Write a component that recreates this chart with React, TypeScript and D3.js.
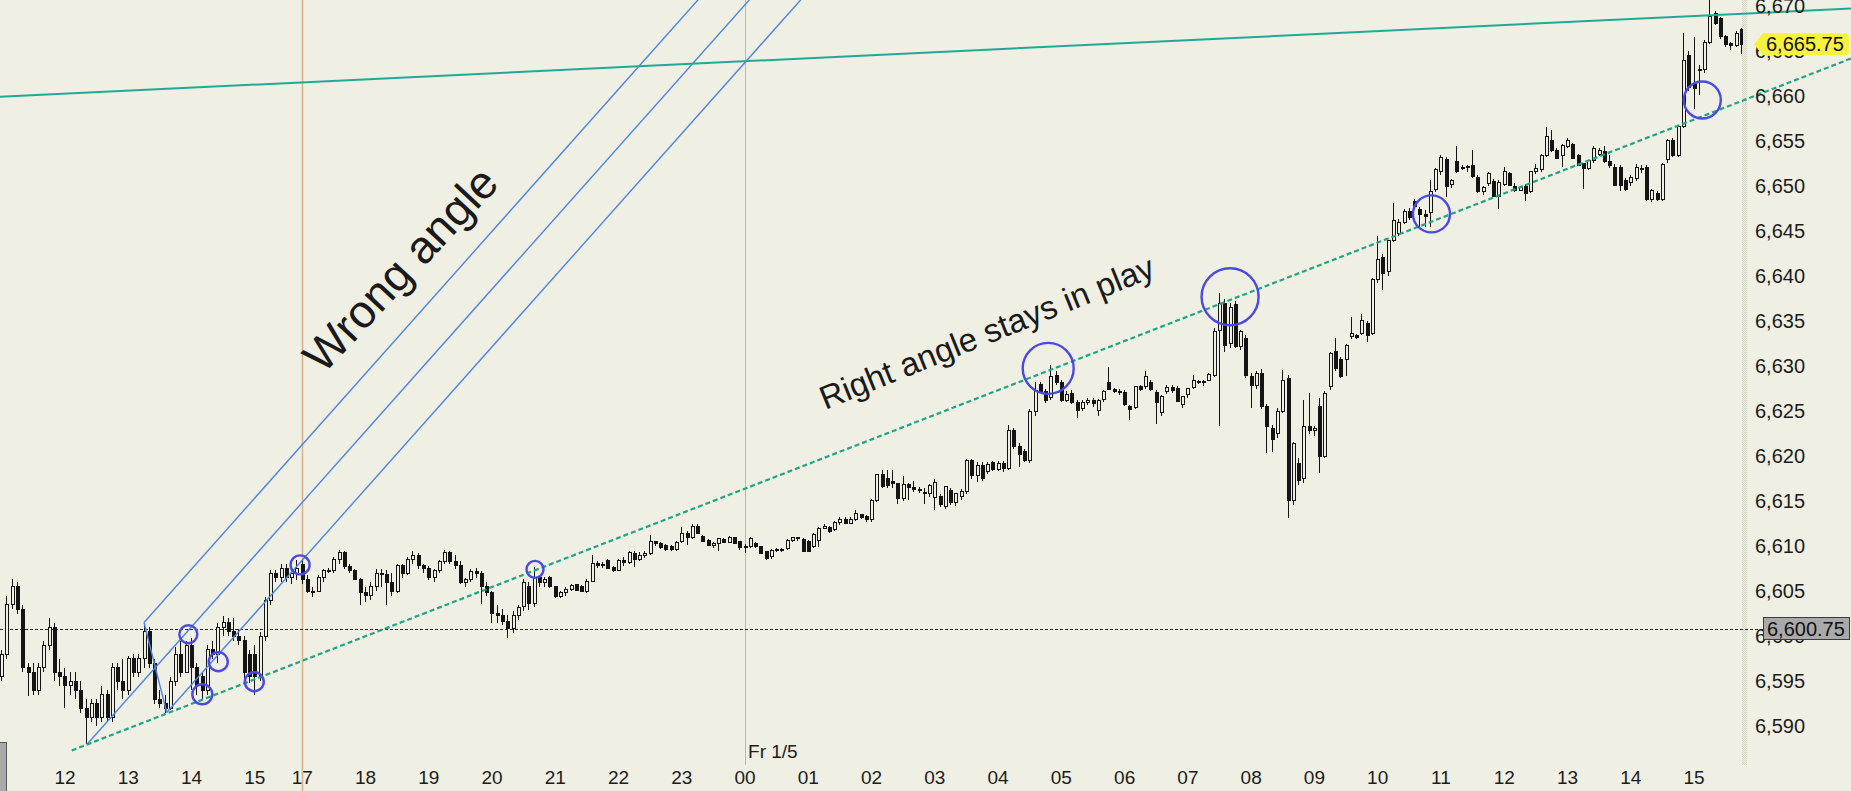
import React from 'react';
import * as d3 from 'd3';

type Bar = [number, number, number, number]; // open, high, low, close (5-minute bars)

// Thu 1/4 11:00 - 15:45
const thursdayDay: Bar[] = [
  [6595.5,6598.5,6595,6598],[6598,6604.5,6597.5,6603.5],[6603.5,6606.3,6603,6605.5],[6605.5,6606,6602.5,6603],
  [6603,6603.5,6596,6596.5],[6596.5,6597,6593.3,6596],[6596,6597,6593.5,6594],[6594,6597,6593.5,6596.5],
  [6596.5,6599.5,6596,6599],[6599,6602,6598.5,6601],[6601,6601.5,6595,6596],[6596,6597.5,6594.5,6595.5],
  [6595.5,6596.5,6592,6594.5],[6594.5,6596,6593.5,6595],[6595,6596,6593,6594],[6594,6595,6591.5,6592],
  [6592,6593,6588,6591],[6591,6593,6590.5,6592.5],[6592.5,6593,6590,6591],[6591,6594.5,6590.5,6593.5],
  [6593.5,6594,6590.5,6591],[6591,6597,6590.5,6596.5],[6596.5,6597,6594,6595],[6595,6597.5,6593,6594],
  [6594,6597.8,6593.5,6597.5],[6597.5,6598,6595.5,6596],[6596,6598,6595.5,6597.5],[6597.5,6601.5,6596.5,6600.5],
  [6600.5,6601,6596.5,6597],[6597,6597.5,6592.5,6593],[6593,6594,6592,6592.5],[6592.5,6593.5,6591.5,6592],
  [6592,6595.5,6591.8,6595],[6595,6598.8,6594.5,6598],[6598,6599.5,6595.5,6596],[6596,6599.5,6596,6599],
  [6599,6599.8,6594,6596.5],[6596.5,6597,6593.5,6594.5],[6595.5,6596,6593,6594],[6594,6599,6593.5,6598.5],
  [6598.5,6599.5,6597.5,6598],[6598,6601.5,6597,6601],[6601,6602.2,6600,6601.5],[6601.5,6602,6600,6600.5],
  [6600.5,6602,6599.5,6600],[6600,6600.8,6599,6599.5],[6599.5,6600,6595,6596],[6598,6598.5,6594.8,6595.5],
  [6598,6599,6593.5,6595.5],[6595.5,6600.5,6595,6600],[6600,6604.3,6599.5,6604],[6604,6607.3,6603.5,6607],
  [6607,6607.3,6606,6606.5],[6606.5,6608,6606,6607.5],[6607.5,6608,6606,6606.5],[6606.5,6607.3,6605.8,6607],
  [6607,6608.5,6606.2,6607.5],
];

// Thu 17:00 - 23:55
const thursdayEvening: Bar[] = [
  [6608,6608.5,6605.8,6606.3],[6606.3,6606.8,6604.8,6605],[6605,6605.5,6604.3,6605],[6605,6606.8,6605,6606.5],
  [6606.5,6607.5,6606,6607.3],[6607.3,6607.6,6607,6607.3],[6607.3,6608.8,6607,6608.5],[6608.5,6609.6,6608,6609.3],
  [6609.3,6609.5,6607.5,6607.7],[6607.7,6608,6607,6607.3],[6607.3,6607.5,6606.2,6606.3],[6606.3,6606.5,6603.5,6604.8],
  [6604.8,6605.5,6603.8,6604.5],[6604.5,6606,6604,6605.5],[6605.5,6607.5,6605,6607],[6607,6607.5,6605.5,6606.8],
  [6606.8,6607.3,6603.5,6606],[6606,6607,6604.5,6605],[6605,6608,6604.8,6607.8],[6607.8,6608,6606.5,6607],
  [6607,6608.8,6606.8,6608.5],[6608.5,6609.5,6608,6609],[6609,6609.2,6607.5,6607.8],[6607.8,6608,6607,6607.5],
  [6607.5,6607.8,6606.2,6606.5],[6606.5,6607.5,6606,6607.3],[6607.3,6608.5,6607,6608.3],[6608.3,6609.6,6608,6609.3],
  [6609.3,6609.5,6608,6608.3],[6608.3,6609,6607.5,6607.8],[6607.8,6608.3,6605.8,6606],[6606,6606.5,6605.5,6606.3],
  [6606.3,6607.5,6606,6607.2],[6607.2,6607.6,6606.5,6607],[6607,6607.2,6603.6,6605.5],[6605.5,6606,6604.5,6604.8],
  [6604.8,6605,6601.5,6602.5],[6602.5,6603.5,6601.5,6602.3],[6602.3,6603,6601.2,6601.6],[6601.6,6602.3,6599.8,6600.8],
  [6600.8,6602.8,6600.3,6602.3],[6602.3,6603.5,6601.8,6603.2],[6603.3,6606.3,6602.8,6606],[6605.5,6606,6602.9,6603.6],
  [6603.6,6607.7,6603.2,6606.5],[6606.5,6606.7,6605.5,6606],[6606,6606.6,6605.5,6606.3],[6606.5,6606.7,6605.3,6605.5],
  [6605.5,6605.6,6604.2,6604.4],[6604.4,6605,6604.2,6604.8],[6604.8,6605.5,6604.5,6605.2],[6605.2,6605.8,6605,6605.6],
  [6605.7,6605.8,6605,6605.1],[6605.5,6605.7,6604.9,6605],[6605,6606.3,6604.8,6606.1],[6606.1,6609,6606,6608.1],
  [6608.1,6608.3,6607.6,6607.8],[6607.8,6608.2,6607.6,6608],[6608.4,6608.6,6607.4,6607.5],[6607.6,6607.8,6607.1,6607.3],
  [6607.3,6608.6,6607.2,6608.4],[6608.4,6608.8,6607.8,6608.2],[6608.2,6609.4,6608,6609.3],[6609.2,6609.4,6607.7,6608.5],
  [6608.5,6609.3,6608.3,6609],[6609,6609.4,6608.7,6609.2],[6609.2,6611.2,6609,6610.5],[6610.5,6610.6,6610,6610.3],
  [6610.3,6610.5,6609.7,6609.8],[6610.1,6610.2,6609.5,6609.6],[6609.9,6610.1,6609.5,6609.6],[6609.6,6610.6,6609.5,6610.4],
  [6610.5,6612.1,6610.3,6611.4],[6611.4,6611.7,6610.1,6611],[6611,6612.4,6610.8,6612.2],[6612.2,6612.4,6611.3,6611.4],
  [6611.1,6611.2,6610.4,6610.5],[6610.6,6610.8,6610,6610.1],[6610.1,6610.5,6609.8,6610.3],[6610.3,6610.9,6609.4,6610.8],
  [6610.7,6610.9,6610.3,6610.4],[6610.4,6611.1,6610.3,6611],[6610.9,6611,6610.2,6610.3],[6610.5,6610.6,6609.6,6609.8],
];

// Fri 1/5 00:00 - 04:55
const fridayNight: Bar[] = [
  [6609.8,6610.2,6609.2,6610],[6610,6611,6609.8,6610.8],[6610.3,6610.5,6609.8,6610],[6609.9,6610,6609.1,6609.2],
  [6609.4,6609.5,6608.4,6608.6],[6608.8,6609.7,6608.6,6609.5],[6609.5,6609.8,6609.3,6609.6],[6609.6,6609.8,6609.3,6609.5],
  [6609.7,6610.8,6609.6,6610.6],[6610.6,6611,6610.5,6610.9],[6610.9,6611,6610.6,6610.8],[6610.7,6610.9,6609.3,6609.4],
  [6610.5,6610.7,6609.3,6609.4],[6609.9,6611.4,6609.8,6611.3],[6610.6,6612.1,6609.9,6612],[6612,6612.4,6611.9,6612.2],
  [6612.1,6612.2,6611.5,6611.6],[6611.8,6612.8,6611.7,6612.6],[6612.6,6613.2,6612.3,6612.9],[6613,6613.2,6612.4,6612.5],
  [6612.5,6613.2,6612.4,6613],[6612.9,6614,6612.8,6613.6],[6613.5,6613.6,6613,6613.2],[6613.3,6613.4,6612.7,6612.9],
  [6612.9,6615.2,6612.7,6615.1],[6615.1,6618,6614.9,6617.9],[6617.9,6618.4,6616.4,6616.6],[6617.5,6618.4,6616.5,6616.7],
  [6617.2,6618.4,6616.5,6617],[6616.9,6617,6614.7,6615.3],[6615.3,6617.8,6615,6616.8],[6616.8,6617,6615.1,6616.5],
  [6616.5,6617.2,6616,6616.3],[6616.3,6616.6,6615.9,6616.2],[6616,6616.5,6614.7,6615.8],[6615.8,6616.9,6615.5,6616.7],
  [6615.4,6617.5,6614,6617.1],[6615.5,6615.8,6614.3,6614.6],[6614.4,6616.7,6614.1,6616.6],[6616.2,6616.4,6614.6,6614.8],
  [6614.8,6615.9,6614.5,6615.8],[6615.5,6616.3,6615.1,6616.1],[6616.1,6619.7,6615.8,6619.5],[6619.5,6619.7,6617.5,6617.8],
  [6617.8,6619.3,6617.1,6619],[6619,6619.3,6617.2,6617.5],[6618.3,6619.3,6618,6619.1],[6619.3,6619.5,6618.3,6618.5],
  [6618.5,6619.4,6618.3,6619.2],[6619.2,6619.5,6618.2,6618.6],[6618.6,6623.5,6618.4,6622.8],[6622.8,6623.1,6620.8,6621.1],
  [6621.1,6621.5,6618.8,6620.2],[6620.5,6620.8,6619.3,6619.5],[6619.5,6625.2,6619.2,6624.9],[6624.9,6628.2,6624.5,6627.3],
  [6627.9,6628.2,6627,6627.2],[6627.2,6627.4,6625.9,6626.2],[6626.5,6630.1,6626.2,6628.8],[6629,6629.5,6627.9,6628.2],
];

// Fri 05:00 - 10:25
const fridayMorning: Bar[] = [
  [6628.2,6628.4,6626,6626.2],[6626.2,6627.2,6626,6626.8],[6627,6627.3,6625.8,6626],[6626,6626.2,6624.2,6625.1],
  [6625.3,6626.2,6625,6626],[6626,6626.5,6625.7,6626.2],[6626.2,6626.4,6625.5,6625.8],[6625.1,6626.3,6624.4,6626.2],
  [6626.3,6627.3,6626,6627.2],[6628.2,6629.9,6627.3,6627.4],[6627.4,6627.6,6627,6627.2],[6627.2,6627.5,6626.8,6627.1],
  [6627.1,6627.3,6625.6,6625.7],[6625.5,6625.7,6624,6625.2],[6625.4,6627.8,6625.2,6627.7],[6627.7,6627.9,6627.2,6627.4],
  [6627.7,6629.4,6627.4,6628.8],[6628.2,6628.4,6627.2,6627.4],[6627.1,6627.3,6623.6,6625.9],[6624.8,6626.8,6624.5,6626.6],
  [6627.2,6627.9,6626.9,6627.6],[6627.6,6627.9,6627,6627.3],[6627.5,6627.8,6626,6626.1],[6625.7,6626.7,6625.3,6626.6],
  [6626.8,6627.6,6626.5,6627.5],[6627.6,6629,6627.4,6628.4],[6628.3,6628.5,6628,6628.2],[6628.2,6628.5,6627.8,6628.3],
  [6628.4,6629.2,6628.3,6629.1],[6629,6634.2,6628.8,6633.8],[6634,6638.1,6623.3,6637],[6637,6637.5,6631.6,6632.3],
  [6632.5,6637,6632,6636.5],[6636.8,6637.2,6632,6632.2],[6632.2,6634,6631.8,6633.8],[6633.1,6633.5,6628.7,6628.9],
  [6628.8,6629.2,6625.3,6627.8],[6627.8,6629.5,6627.5,6629.2],[6629.2,6629.7,6625.2,6625.5],[6625.5,6625.8,6620.3,6623.3],
  [6623.1,6623.5,6620.5,6621.8],[6622.5,6625.3,6622,6625],[6625,6629.6,6624.8,6628.4],[6628.6,6629,6613.1,6615.1],
  [6615.1,6621.6,6614.6,6621.4],[6619.2,6619.8,6616.8,6617.3],[6617.5,6626.2,6617,6623.3],[6623.3,6627,6622.4,6622.8],
  [6622.8,6623.3,6622.2,6623.1],[6625.5,6626.5,6618.1,6619.9],[6620,6627.2,6619.8,6627],[6627.7,6631.6,6627.3,6631.4],
  [6631.6,6633.1,6629.5,6629.7],[6630.7,6631,6628.7,6628.8],[6630.7,6632.4,6628.9,6632.3],[6633.3,6635.5,6633,6633.6],
  [6633.4,6633.6,6633,6633.2],[6633.6,6635.8,6633.4,6635.1],[6634.7,6635,6632.7,6633.4],[6633.6,6639.8,6633.4,6639.6],
  [6639.6,6644.4,6639.2,6641.8],[6642.1,6642.5,6638.4,6640.3],[6640.5,6644,6640,6643.9],[6644,6648.1,6643.8,6646.2],
  [6644.7,6646.3,6644.5,6645.9],
];

// Fri 10:30 - 15:50
const fridayAfternoon: Bar[] = [
  [6646,6647.5,6645.8,6647.2],[6647.2,6647.6,6646.2,6646.5],[6648.3,6648.6,6647.6,6647.7],[6647.4,6647.7,6645.5,6646.8],
  [6646.8,6647.3,6645.4,6646.6],[6647.1,6650.7,6645.5,6649.4],[6649.6,6652,6649.3,6651.8],[6651.6,6653.5,6651.2,6653.2],
  [6653,6653.2,6648.8,6650],[6650.2,6650.8,6649.8,6650.6],[6652.7,6654.4,6651.5,6651.6],[6652,6652.3,6651.8,6652.1],
  [6652.1,6652.3,6651.6,6652.2],[6652.3,6654,6650.9,6651.1],[6651,6651.2,6649.2,6649.4],[6649.4,6650,6649,6649.8],
  [6650.3,6651.6,6650,6651.4],[6650.5,6650.8,6648.8,6648.8],[6648.8,6650.7,6647.4,6650.4],[6650.2,6652.1,6650,6651.6],
  [6651.4,6651.6,6650,6650.1],[6650,6650.3,6649.3,6649.5],[6649.5,6649.9,6649.5,6649.8],[6650,6650.2,6648.3,6649.2],
  [6649.4,6651.7,6649.2,6651.6],[6651.6,6652.5,6651.3,6651.9],[6651.8,6653.6,6651.6,6653.4],[6653.4,6656.6,6653.2,6655.5],
  [6655.1,6656.2,6653.8,6654],[6654,6654.2,6653,6653.1],[6653.4,6654.7,6652.1,6654.5],[6654.4,6655.3,6654.2,6655.1],
  [6654.6,6654.8,6653,6653.1],[6653.4,6653.6,6652.2,6652.3],[6652.5,6652.6,6649.7,6652],[6652,6652.9,6651.8,6652.8],
  [6652.8,6654.4,6652.6,6654.2],[6653.5,6654.2,6653.3,6654],[6653.8,6654.4,6652.6,6652.7],[6652.7,6653.5,6652,6652.3],
  [6652.1,6652.4,6650,6650.1],[6652.1,6652.3,6649.5,6650.1],[6650.6,6650.9,6649.4,6649.6],[6650.4,6651.2,6650,6651],
  [6650.8,6652.4,6650.6,6652.1],[6652,6652.3,6651.5,6651.8],[6652.1,6652.3,6648.3,6648.5],[6648.5,6649.7,6648.2,6649.5],
  [6649.2,6649.5,6648.3,6648.5],[6648.5,6652.6,6648.3,6652.4],[6652.9,6655.2,6652.6,6655.1],[6655.1,6655.3,6653.2,6653.4],
  [6653.4,6656.8,6653.2,6656.6],[6656.6,6667,6656.4,6664],[6664.5,6665,6660.6,6661],[6661.4,6666.6,6658.6,6660.8],
  [6662.9,6663.5,6660.1,6663],[6662.9,6666.2,6662.6,6666],[6666,6670.7,6665.8,6668.8],[6669.2,6669.5,6667.9,6668.1],
  [6668.6,6668.8,6666.3,6666.6],[6666.6,6666.8,6665.4,6665.7],[6665.8,6666,6665.1,6665.6],[6665.6,6667.2,6665.4,6667],
  [6667.4,6667.6,6664.7,6665.75],
];

const bars: Bar[] = [...thursdayDay, ...thursdayEvening, ...fridayNight, ...fridayMorning, ...fridayAfternoon];

// hour labels with the index of the first bar of that hour
const hourTicks: [string, number][] = [
  ['12', 12], ['13', 24], ['14', 36], ['15', 48], ['17', 57], ['18', 69], ['19', 81], ['20', 93], ['21', 105],
  ['22', 117], ['23', 129], ['00', 141], ['01', 153], ['02', 165], ['03', 177], ['04', 189], ['05', 201],
  ['06', 213], ['07', 225], ['08', 237], ['09', 249], ['10', 261], ['11', 273], ['12', 285], ['13', 297],
  ['14', 309], ['15', 321],
];
const sessionBreakBar = 57;
const dayBreakBar = 141;
const dayBreakLabel = 'Fr 1/5';

const priceTicks = [6590, 6595, 6600, 6605, 6610, 6615, 6620, 6625, 6630, 6635, 6640, 6645, 6650, 6655, 6660, 6665, 6670];
const lastPrice = 6665.75;
const referencePrice = 6600.75;

// annotations, in (bar index, price)
const pitchforkA: [number, number] = [16.24, 6588.0];
const pitchforkB: [number, number] = [27.0, 6601.5];
const pitchforkC: [number, number] = [31.3, 6591.5];
const supportLine: [number, number][] = [[13.28, 6587.28], [300, 6652.6]];
const resistanceLine: [number, number][] = [[0, 6659.92], [330, 6669.14]];
const touchPoints: [number, number][] = [
  [35.4, 6600.19], [38.05, 6593.52], [41.08, 6597.14], [47.91, 6594.92], [56.6, 6607.9],
  [101.16, 6607.4], [198.5, 6629.74], [233.0, 6637.7], [271.2, 6646.9], [322.57, 6659.56],
];
const touchRadii = [9, 10, 9.5, 9.5, 9.5, 8.5, 25.5, 28.5, 18.5, 18.5];

const W = 1851;
const H = 791;
const BG = '#efefe3';
const INK = '#141414';
const FONT = '"Liberation Sans", Arial, Helvetica, sans-serif';

export default function App() {
  const x = d3.scaleLinear().domain([0, bars.length - 1]).range([1.7, 1.7 + 5.272 * (bars.length - 1)]);
  const y = d3.scaleLinear().domain([6590, 6670]).range([726, 6]);
  const fmt = d3.format(',');
  const fmt2 = d3.format(',.2f');
  const plotRight = 1743;

  const px = (p: [number, number]): [number, number] => [x(p[0]), y(p[1])];

  const extendTo = (p1: [number, number], p2: [number, number], xEnd: number): [number, number] => {
    const s = (p2[1] - p1[1]) / (p2[0] - p1[0]);
    return [xEnd, p1[1] + s * (xEnd - p1[0])];
  };

  const sup0 = px(supportLine[0]);
  const sup1 = px(supportLine[1]);
  const supEnd = extendTo(sup0, sup1, W);
  const res0 = px(resistanceLine[0]);
  const res1 = px(resistanceLine[1]);
  const resStart = extendTo(res0, res1, 0);
  const resEnd = extendTo(res0, res1, W);

  const A = px(pitchforkA);
  const B = px(pitchforkB);
  const C = px(pitchforkC);
  const M: [number, number] = [(B[0] + C[0]) / 2, (B[1] + C[1]) / 2];
  const dir: [number, number] = [M[0] - A[0], M[1] - A[1]];
  const prong = (s: [number, number]) => {
    const t = (s[1] + 4) / -dir[1];
    return [s, [s[0] + dir[0] * t, s[1] + dir[1] * t]] as [number, number][];
  };
  const prongs = [prong(A), prong(B), prong(C)];

  const candles = bars.map((b, i) => {
    const [o, h, l, c] = b;
    const cx = Math.floor(x(i)) + 0.5;
    const up = c >= o;
    const yTop = y(Math.max(o, c));
    const yBot = y(Math.min(o, c));
    const bh = Math.max(1, yBot - yTop);
    return (
      <g key={i}>
        <line x1={cx} x2={cx} y1={y(h)} y2={y(l)} stroke={INK} strokeWidth={1} />
        {up ? (
          <rect x={cx - 1} y={yTop} width={3} height={bh} fill={BG} stroke={INK} strokeWidth={1} />
        ) : (
          <rect x={cx - 1.5} y={yTop - 0.5} width={4} height={bh + 1} fill={INK} />
        )}
      </g>
    );
  });

  const yLast = y(lastPrice);
  const yRef = y(referencePrice);

  return (
    <svg width={W} height={H} viewBox={`0 0 ${W} ${H}`} style={{ position: 'absolute', left: 0, top: 0, display: 'block' }} fontFamily={FONT}>
      <defs>
        <pattern id="sep" width="2" height="2" patternUnits="userSpaceOnUse">
          <rect width="2" height="2" fill={BG} />
          <rect width="1" height="1" fill="#d6d6c4" />
          <rect x="1" y="1" width="1" height="1" fill="#d6d6c4" />
        </pattern>
        <clipPath id="plot">
          <rect x={0} y={0} width={plotRight} height={H} />
        </clipPath>
      </defs>
      <rect x={0} y={0} width={W} height={H} fill={BG} />

      {/* axis separator band */}
      <rect x={plotRight - 1} y={0} width={5} height={765} fill="url(#sep)" />

      {/* session / day separators */}
      <line x1={Math.floor(x(sessionBreakBar)) + 0.5} x2={Math.floor(x(sessionBreakBar)) + 0.5} y1={0} y2={H} stroke="#d8b48e" strokeWidth={1.6} />
      <line x1={Math.floor(x(dayBreakBar)) + 0.5} x2={Math.floor(x(dayBreakBar)) + 0.5} y1={0} y2={765} stroke="#e2ad86" strokeWidth={1} />

      {/* reference price dotted line */}
      <line x1={0} x2={1764} y1={Math.round(yRef) + 0.5} y2={Math.round(yRef) + 0.5} stroke="#222" strokeWidth={1} strokeDasharray="3,2" />

      {/* candles */}
      <g clipPath="url(#plot)" shapeRendering="crispEdges">{candles}</g>

      {/* pitchfork */}
      <g stroke="#4f86e3" strokeWidth={1.4} fill="none">
        {prongs.map((seg, i) => (
          <line key={i} x1={seg[0][0]} y1={seg[0][1]} x2={seg[1][0]} y2={seg[1][1]} />
        ))}
        <line x1={B[0]} y1={B[1]} x2={C[0]} y2={C[1]} />
      </g>

      {/* trend lines */}
      <line x1={resStart[0]} y1={resStart[1]} x2={resEnd[0]} y2={resEnd[1]} stroke="#1faa95" strokeWidth={2} />
      <line x1={sup0[0]} y1={sup0[1]} x2={supEnd[0]} y2={supEnd[1]} stroke="#1fa585" strokeWidth={2.2} strokeDasharray="5,3" />

      {/* touch circles */}
      <g fill="none" stroke="#4a4ae2" strokeWidth={2.4}>
        {touchPoints.map((p, i) => (
          <circle key={i} cx={x(p[0])} cy={y(p[1])} r={touchRadii[i]} />
        ))}
      </g>

      {/* text annotations */}
      <text transform="translate(412,280) rotate(-47)" textAnchor="middle" fontSize={46} fill="#1a1a1a">Wrong angle</text>
      <text transform="translate(991,343) rotate(-22)" textAnchor="middle" fontSize={33} fill="#1a1a1a">Right angle stays in play</text>

      {/* price axis */}
      <g fontSize={20} fill="#1c1c1c">
        {priceTicks.map((v) => (
          <text key={v} x={1755} y={y(v)} dominantBaseline="central">{fmt(v)}</text>
        ))}
      </g>

      {/* time axis */}
      <g fontSize={19} fill="#1c1c1c" textAnchor="middle">
        {hourTicks.map(([lab, idx], i) => (
          <text key={i} x={x(idx)} y={777} dominantBaseline="central">{lab}</text>
        ))}
      </g>
      <text x={x(dayBreakBar) + 3} y={751} fontSize={19} fill="#1c1c1c" dominantBaseline="central">{dayBreakLabel}</text>

      {/* last price marker */}
      <path
        d={`M1754,${yLast} L1763,${yLast - 11} L1845,${yLast - 11} Q1849,${yLast - 11} 1849,${yLast - 7} L1849,${yLast + 7} Q1849,${yLast + 11} 1845,${yLast + 11} L1763,${yLast + 11} Z`}
        fill="#f6f23e"
      />
      <text x={1766} y={yLast} fontSize={20} fill="#111" dominantBaseline="central">{fmt2(lastPrice)}</text>

      {/* reference price marker */}
      <rect x={1763.5} y={Math.round(yRef) - 11.5} width={86} height={22} fill="#a9a9a9" stroke="#3a3a3a" strokeWidth={1} />
      <text x={1767} y={yRef} fontSize={20} fill="#111" dominantBaseline="central">{fmt2(referencePrice)}</text>

      {/* partial label at left edge */}
      <rect x={-1.5} y={742.5} width={8} height={60} fill="#a9a9a9" stroke="#555" strokeWidth={1} />
    </svg>
  );
}
